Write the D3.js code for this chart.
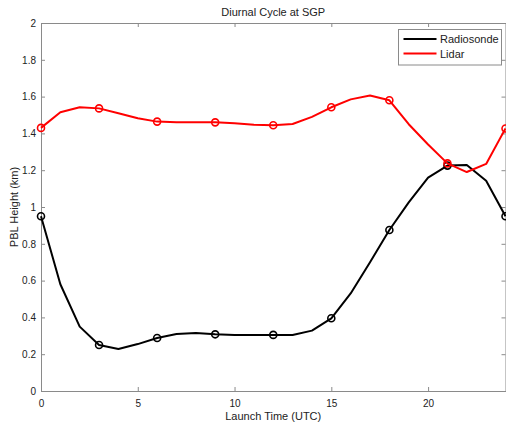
<!DOCTYPE html>
<html>
<head>
<meta charset="utf-8">
<script src="https://cdn.jsdelivr.net/npm/d3@7"></script>
<style>
  body { margin: 0; background: #fff; }
  svg { display: block; font-family: "Liberation Sans", Arial, sans-serif; }
</style>
</head>
<body>
<div id="chart"></div>
<script>
// Launch hour (UTC) and PBL height (km)
const hours = [0, 1, 2, 3, 4, 5, 6, 7, 8, 9, 10, 11, 12, 13, 14, 15, 16, 17, 18, 19, 20, 21, 22, 23, 24];
const radiosonde = [0.95, 0.58, 0.35, 0.25, 0.228, 0.255, 0.288, 0.31, 0.315, 0.308, 0.305, 0.305, 0.305,
                    0.304, 0.328, 0.395, 0.53, 0.70, 0.875, 1.025, 1.16, 1.225, 1.228, 1.143, 0.95];
const lidar = [1.43, 1.515, 1.542, 1.536, 1.51, 1.482, 1.464, 1.46, 1.46, 1.46, 1.455, 1.447, 1.444,
               1.451, 1.49, 1.542, 1.585, 1.606, 1.58, 1.45, 1.34, 1.237, 1.19, 1.234, 1.427];
const markerHours = [0, 3, 6, 9, 12, 15, 18, 21, 24];
const xTicks = [0, 5, 10, 15, 20];
const yTicks = [0, 0.2, 0.4, 0.6, 0.8, 1, 1.2, 1.4, 1.6, 1.8, 2];

const series = [
  { name: "Radiosonde", values: radiosonde, color: "#000000" },
  { name: "Lidar", values: lidar, color: "#ff0000" }
];

const W = 506, H = 428;
const plotLeft = 41, plotRight = 505.5, plotTop = 23, plotBottom = 391;

const svg = d3.select("#chart").append("svg")
  .attr("width", W)
  .attr("height", H);

const x = d3.scaleLinear().domain([0, 24]).range([plotLeft, plotRight]);
const y = d3.scaleLinear().domain([0, 2]).range([plotBottom, plotTop]);

const axisColor = "#8a8a8a";
const textColor = "#222";

// Axes (MATLAB style: inward ticks on all four sides)
function styleAxis(g, showText) {
  g.select(".domain").attr("stroke", axisColor).attr("stroke-width", 1);
  g.selectAll(".tick line").attr("stroke", axisColor);
  g.selectAll(".tick text")
    .attr("fill", textColor)
    .style("font-size", "10px")
    .style("display", showText ? null : "none");
}

svg.append("g")
  .attr("transform", `translate(0,${plotBottom})`)
  .call(d3.axisBottom(x).tickValues(xTicks).tickSizeInner(-4).tickSizeOuter(0).tickPadding(9).tickFormat(d3.format("d")))
  .call(g => styleAxis(g, true));

svg.append("g")
  .attr("transform", `translate(0,${plotTop})`)
  .call(d3.axisTop(x).tickValues(xTicks).tickSizeInner(-4).tickSizeOuter(0))
  .call(g => styleAxis(g, false));

svg.append("g")
  .attr("transform", `translate(${plotLeft},0)`)
  .call(d3.axisLeft(y).tickValues(yTicks).tickSizeInner(-4).tickSizeOuter(0).tickPadding(5).tickFormat(d => String(+d.toFixed(1))))
  .call(g => styleAxis(g, true));

svg.append("g")
  .attr("transform", `translate(${plotRight},0)`)
  .call(d3.axisRight(y).tickValues(yTicks).tickSizeInner(-4).tickSizeOuter(0))
  .call(g => styleAxis(g, false));

// Lines
const line = d3.line()
  .x((d, i) => x(hours[i]))
  .y(d => y(d));

series.forEach(s => {
  svg.append("path")
    .datum(s.values)
    .attr("fill", "none")
    .attr("stroke", s.color)
    .attr("stroke-width", 2)
    .attr("stroke-linejoin", "round")
    .attr("d", line);

  svg.append("g")
    .selectAll("circle")
    .data(markerHours)
    .join("circle")
    .attr("cx", h => x(h))
    .attr("cy", h => y(s.values[hours.indexOf(h)]))
    .attr("r", 3.5)
    .attr("fill", "none")
    .attr("stroke", s.color)
    .attr("stroke-width", 1.6);
});

// Title and axis labels
svg.append("text")
  .attr("x", (plotLeft + plotRight) / 2)
  .attr("y", 16)
  .attr("text-anchor", "middle")
  .attr("fill", textColor)
  .style("font-size", "11px")
  .text("Diurnal Cycle at SGP");

svg.append("text")
  .attr("x", (plotLeft + plotRight) / 2)
  .attr("y", 420)
  .attr("text-anchor", "middle")
  .attr("fill", textColor)
  .style("font-size", "11px")
  .text("Launch Time (UTC)");

svg.append("text")
  .attr("transform", `translate(18,${(plotTop + plotBottom) / 2}) rotate(-90)`)
  .attr("text-anchor", "middle")
  .attr("fill", textColor)
  .style("font-size", "11px")
  .text("PBL Height (km)");

// Legend
const legend = svg.append("g");
legend.append("rect")
  .attr("x", 398.5)
  .attr("y", 29.5)
  .attr("width", 103)
  .attr("height", 35.5)
  .attr("fill", "#fff")
  .attr("stroke", axisColor);

series.forEach((s, i) => {
  const ly = 39 + i * 14.5;
  legend.append("line")
    .attr("x1", 403.5).attr("x2", 436.5)
    .attr("y1", ly).attr("y2", ly)
    .attr("stroke", s.color)
    .attr("stroke-width", 2);
  legend.append("text")
    .attr("x", 440)
    .attr("y", ly + 4)
    .attr("fill", textColor)
    .style("font-size", "11px")
    .text(s.name);
});
</script>
</body>
</html>
